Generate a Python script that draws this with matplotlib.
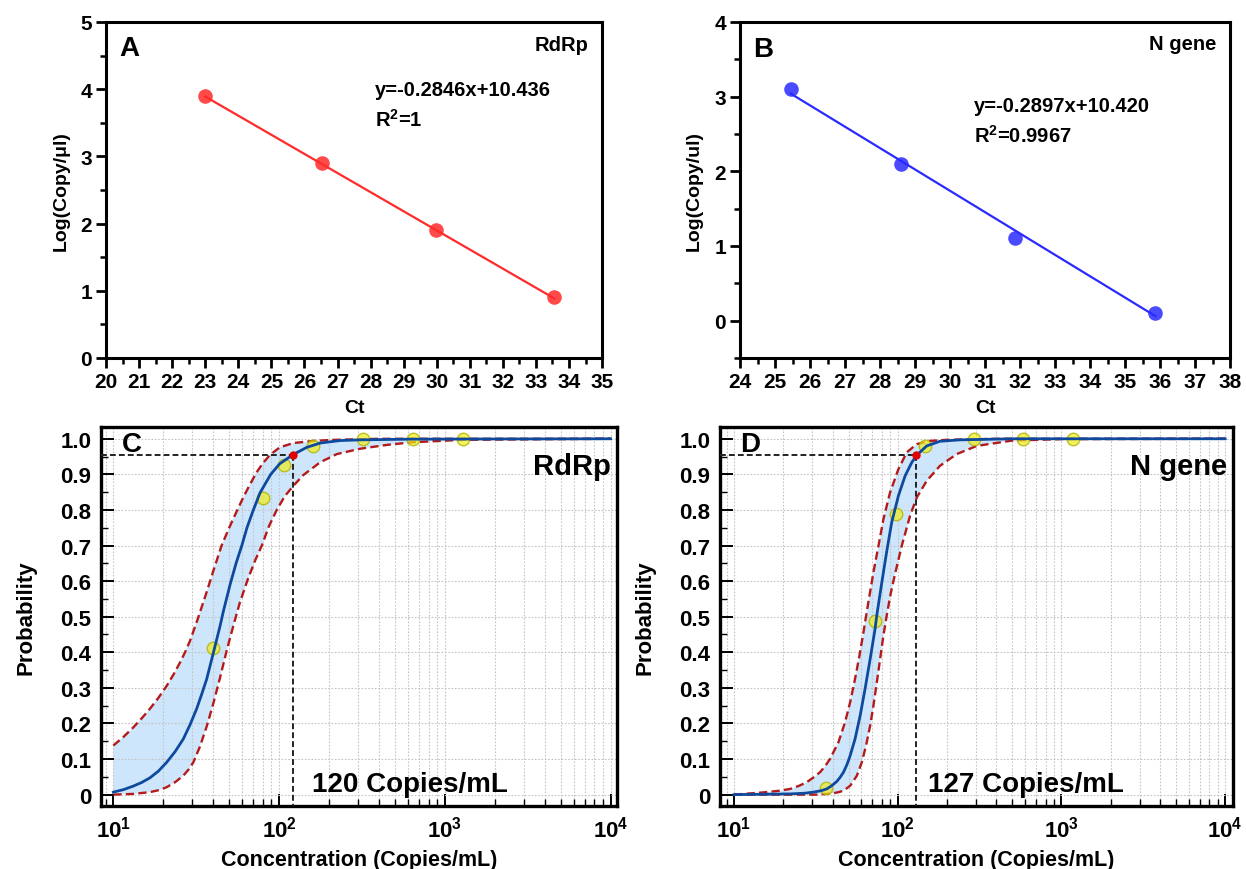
import numpy as np
import matplotlib
matplotlib.use('Agg')
import matplotlib.pyplot as plt
from matplotlib.ticker import MultipleLocator, FixedLocator, FixedFormatter, LogLocator, NullFormatter

plt.rcParams['font.family'] = 'Liberation Sans'
plt.rcParams['font.weight'] = 'bold'
plt.rcParams['mathtext.fontset'] = 'custom'
plt.rcParams['mathtext.bf'] = 'Liberation Sans:bold'
plt.rcParams['mathtext.rm'] = 'Liberation Sans:bold'
plt.rcParams['mathtext.default'] = 'bf'

# ---- panel A / B : standard curves ----
rdrp_ct = [23.0, 26.53, 29.99, 33.56]
rdrp_log = [3.9, 2.9, 1.9, 0.9]
rdrp_fit_ct = [23.0, 33.56]
rdrp_fit_log = [3.89, 0.885]

ngene_ct = [25.45, 28.6, 31.85, 35.87]
ngene_log = [3.1, 2.1, 1.1, 0.1]
ngene_fit_ct = [25.45, 35.87]
ngene_fit_log = [3.04, 0.06]

# ---- panel C : RdRp probit ----
c_pts_x = [40, 80, 107, 160, 320, 640, 1280]
c_pts_p = [0.411, 0.833, 0.926, 0.98, 1.0, 1.0, 1.0]
c_fit_x = [10, 11.5, 13.2, 14.8, 16.6, 18.7, 21, 23.6, 26.4, 29, 31.8, 34, 36.6, 40.2, 44.1, 46.1, 50.6,
           55, 59.6, 64, 69.3, 76.7, 89, 101, 122, 147, 177, 233, 308, 630, 10000]
c_fit_p = [0.007, 0.014, 0.024, 0.034, 0.047, 0.066, 0.091, 0.121, 0.156, 0.196, 0.241, 0.28, 0.325,
           0.40, 0.475, 0.515, 0.59, 0.65, 0.70, 0.75, 0.795, 0.848, 0.90, 0.93, 0.956, 0.976, 0.988,
           0.995, 0.997, 0.999, 1.0]
c_up_x = [10, 11.5, 13.2, 14.8, 16.6, 18.7, 21, 23.1, 25.3, 27.2, 29, 32, 36.6, 40.2, 45, 50, 56, 61.5,
          66.8, 73, 80, 88.3, 101, 122, 161, 213, 400, 10000]
c_up_p = [0.138, 0.162, 0.189, 0.214, 0.241, 0.272, 0.306, 0.338, 0.372, 0.402, 0.432, 0.488, 0.57, 0.63,
          0.70, 0.75, 0.80, 0.84, 0.872, 0.905, 0.932, 0.955, 0.976, 0.988, 0.994, 0.997, 1.0, 1.0]
c_lo_x = [10, 13.2, 16.6, 19, 21, 23.6, 26.4, 28.5, 30.4, 33.3, 36.6, 40.2, 44.1, 48.3, 53, 58, 65.3,
          72, 78.7, 87, 96.8, 108, 122, 140, 177, 223, 308, 450, 630, 1260, 10000]
c_lo_p = [0.0, 0.002, 0.007, 0.013, 0.021, 0.035, 0.053, 0.071, 0.091, 0.135, 0.192, 0.258, 0.33, 0.405,
          0.475, 0.54, 0.61, 0.66, 0.70, 0.755, 0.80, 0.838, 0.868, 0.898, 0.934, 0.957, 0.972, 0.983,
          0.99, 0.997, 1.0]
c_lod = (121, 0.954)

# ---- panel D : N gene probit ----
d_pts_x = [36.5, 73, 97.7, 146, 292, 584, 1168]
d_pts_p = [0.018, 0.489, 0.788, 0.98, 1.0, 1.0, 1.0]
d_fit_x = [10, 22, 27, 30.5, 34, 36.8, 39.5, 42.4, 44.5, 46.6, 49, 51.2, 54.8, 58.9, 63.1, 67.8, 72.6,
           74.5, 79.8, 85.7, 91.8, 100.9, 110.9, 121.9, 130.6, 150.3, 181, 240, 500, 10000]
d_fit_p = [0.0, 0.002, 0.004, 0.007, 0.011, 0.016, 0.025, 0.037, 0.049, 0.063, 0.085, 0.110, 0.156,
           0.222, 0.297, 0.381, 0.465, 0.505, 0.595, 0.685, 0.765, 0.840, 0.896, 0.934, 0.954, 0.980,
           0.993, 0.997, 1.0, 1.0]
d_up_x = [10, 15.8, 19, 22, 25, 27.8, 30.5, 33.5, 36, 38.5, 43.4, 47.6, 51.2, 54.8, 58.3, 61.7, 64.7,
          71, 76.2, 81.7, 89.7, 100.9, 113.5, 130.6, 157, 199, 400, 10000]
d_up_p = [0.0, 0.007, 0.011, 0.016, 0.025, 0.035, 0.048, 0.063, 0.08, 0.10, 0.147, 0.203, 0.26, 0.325,
          0.39, 0.456, 0.515, 0.625, 0.699, 0.774, 0.849, 0.915, 0.962, 0.985, 0.994, 0.997, 1.0, 1.0]
d_lo_x = [10, 32, 36.5, 40.5, 43.5, 46.6, 51.2, 56.2, 60.3, 64, 67.8, 71, 74.5, 78, 81.7, 85.7, 90.5,
          96.2, 105.7, 118.9, 130.6, 150.3, 181, 229, 304, 500, 1000, 10000]
d_lo_p = [0.0, 0.0, 0.002, 0.004, 0.007, 0.011, 0.025, 0.053, 0.091, 0.138, 0.194, 0.25, 0.316, 0.381,
          0.447, 0.505, 0.565, 0.62, 0.699, 0.784, 0.835, 0.882, 0.924, 0.957, 0.980, 0.995, 0.999, 1.0]
d_lod = (129, 0.954)

prob_ticks = [0, 0.1, 0.2, 0.3, 0.4, 0.5, 0.6, 0.7, 0.8, 0.9, 1.0]
prob_labels = ['0', '0.1', '0.2', '0.3', '0.4', '0.5', '0.6', '0.7', '0.8', '0.9', '1.0']
conc_ticks = [10, 100, 1000, 10000]
conc_labels = [r'$10^{1}$', r'$10^{2}$', r'$10^{3}$', r'$10^{4}$']

fig = plt.figure(figsize=(12.46, 8.70), dpi=100)


def std_panel(rect, ct, lg, fit_ct, fit_lg, color, xlim, ylim, letter, gene, eq, r2, txt_pos):
	ax = fig.add_axes(rect)
	ax.plot(fit_ct, fit_lg, color=color, lw=1.6, zorder=2)
	ax.plot(ct, lg, 'o', color=color, ms=10.5, alpha=0.85, mec='none', zorder=3)
	ax.set_xlim(*xlim)
	ax.set_ylim(*ylim)
	ax.xaxis.set_major_locator(MultipleLocator(1))
	ax.xaxis.set_minor_locator(MultipleLocator(0.5))
	ax.yaxis.set_major_locator(MultipleLocator(1))
	ax.yaxis.set_minor_locator(MultipleLocator(0.5))
	ax.tick_params(which='major', direction='out', length=7, width=2, labelsize=15, pad=3)
	ax.tick_params(which='minor', direction='out', length=4, width=1.8)
	for s in ax.spines.values():
		s.set_linewidth(2.2)
	ax.set_xlabel('Ct', fontsize=14, fontweight='bold', labelpad=6)
	ax.set_ylabel('Log(Copy/%s)' % ('\u03bcl' if gene == 'RdRp' else 'ul'), fontsize=14,
				  fontweight='bold', labelpad=8)
	ax.text(txt_pos[0], txt_pos[1], letter, fontsize=20, fontweight='bold', ha='center', va='center')
	ax.text(txt_pos[2], txt_pos[3], gene, fontsize=14.5, fontweight='bold', ha='right', va='center')
	ax.text(txt_pos[4], txt_pos[5], eq, fontsize=14.5, fontweight='bold', ha='left', va='center')
	ax.text(txt_pos[4], txt_pos[6], r2, fontsize=14.5, fontweight='bold', ha='left', va='center')
	return ax


std_panel([0.0851, 0.5874, 0.3981, 0.3862], rdrp_ct, rdrp_log, rdrp_fit_ct, rdrp_fit_log,
		  '#ff2a2a', (20, 35), (0, 5), 'A', 'RdRp', 'y=-0.2846x+10.436', r'R$^2$=1',
		  (20.69, 4.61, 34.6, 4.66, 28.12, 3.99, 3.56))
std_panel([0.5939, 0.5874, 0.3933, 0.3862], ngene_ct, ngene_log, ngene_fit_ct, ngene_fit_log,
		  '#2a2aff', (24, 38), (-0.5, 4), 'B', 'N gene', 'y=-0.2897x+10.420', r'R$^2$=0.9967',
		  (24.66, 3.64, 37.62, 3.71, 30.68, 2.88, 2.49))


def probit_panel(rect, xlim, fit_x, fit_p, up_x, up_p, lo_x, lo_p, pts_x, pts_p, lod, letter, gene, lod_txt,
				 txt_pos):
	ax = fig.add_axes(rect)
	ax.set_xscale('log')
	ax.set_xlim(*xlim)
	ax.set_ylim(-0.032, 1.033)
	ax.fill(np.concatenate([up_x, lo_x[::-1]]), np.concatenate([up_p, lo_p[::-1]]),
			color='#cde6fc', lw=0, zorder=1)
	ax.plot(up_x, up_p, '--', color='#b51a1a', lw=1.7, dashes=(3.5, 1.8), zorder=2)
	ax.plot(lo_x, lo_p, '--', color='#b51a1a', lw=1.7, dashes=(3.5, 1.8), zorder=2)
	ax.plot(pts_x, pts_p, 'o', ms=9, mfc=(0.93, 0.93, 0.1, 0.7), mec=(0.7, 0.7, 0.0, 0.8), mew=1.0,
			zorder=3)
	ax.plot(fit_x, fit_p, color='#0d4a9e', lw=2.0, zorder=4, solid_joinstyle='round')
	ax.plot([xlim[0], lod[0]], [lod[1], lod[1]], '--', color='#222222', lw=1.4, dashes=(3, 1.6), zorder=5)
	ax.plot([lod[0], lod[0]], [lod[1], -0.032], '--', color='#222222', lw=1.4, dashes=(3, 1.6), zorder=5)
	ax.plot([lod[0]], [lod[1]], 'o', color='#e00000', ms=5, zorder=6)
	ax.yaxis.set_major_locator(FixedLocator(prob_ticks))
	ax.yaxis.set_major_formatter(FixedFormatter(prob_labels))
	ax.yaxis.set_minor_locator(MultipleLocator(0.05))
	ax.xaxis.set_major_locator(FixedLocator(conc_ticks))
	ax.xaxis.set_major_formatter(FixedFormatter(conc_labels))
	ax.xaxis.set_minor_locator(LogLocator(base=10, subs=np.arange(2, 10)))
	ax.xaxis.set_minor_formatter(NullFormatter())
	ax.grid(which='both', axis='x', ls=(0, (1.5, 1.5)), color='#c4c4c4', lw=0.8, zorder=0)
	ax.grid(which='major', axis='y', ls=(0, (1.5, 1.5)), color='#c4c4c4', lw=0.8, zorder=0)
	ax.tick_params(which='major', direction='in', length=9, width=1.4, labelsize=16, pad=7)
	ax.tick_params(which='minor', direction='in', length=5, width=1.0)
	for s in ax.spines.values():
		s.set_linewidth(2.4)
	ax.set_xlabel('Concentration (Copies/mL)', fontsize=15.5, fontweight='bold', labelpad=5)
	ax.set_ylabel('Probability', fontsize=16, fontweight='bold', labelpad=17)
	ax.text(txt_pos[0], 0.985, letter, fontsize=20, fontweight='bold', ha='center', va='center')
	ax.text(txt_pos[1], 0.924, gene, fontsize=21, fontweight='bold', ha='right', va='center')
	ax.text(txt_pos[2], 0.03, lod_txt, fontsize=20, fontweight='bold', ha='left', va='center')
	return ax


probit_panel([0.0811, 0.0724, 0.4141, 0.4356], (8.43, 10940), c_fit_x, c_fit_p, c_up_x, c_up_p,
			 c_lo_x, c_lo_p, c_pts_x, c_pts_p, c_lod, 'C', 'RdRp', '120 Copies/mL', (12.9, 10100, 158))
probit_panel([0.5779, 0.0724, 0.4117, 0.4356], (8.21, 11170), d_fit_x, d_fit_p, d_up_x, d_up_p,
			 d_lo_x, d_lo_p, d_pts_x, d_pts_p, d_lod, 'D', 'N gene', '127 Copies/mL', (12.6, 10230, 152))

fig.savefig('out.png', dpi=100)
